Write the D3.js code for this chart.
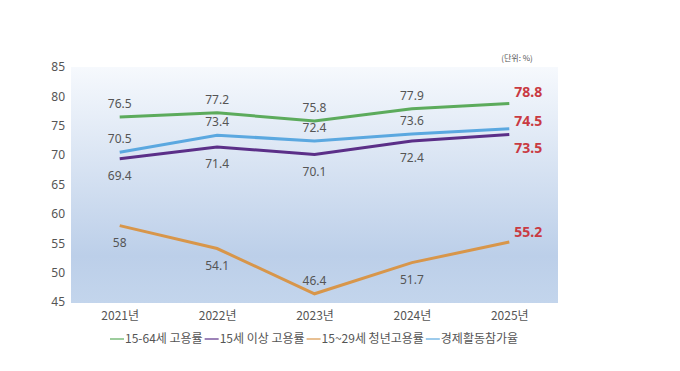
<!doctype html>
<html>
<head>
<meta charset="utf-8">
<title>고용률 추이</title>
<script src="https://cdnjs.cloudflare.com/ajax/libs/d3/7.8.5/d3.min.js"></script>
<style>
  body { margin: 0; background: #fff; font-family: "Noto Sans CJK KR", "Noto Sans", sans-serif; }
</style>
</head>
<body>
<div id="chart"></div>
<script>
// data
const years = ["2021년", "2022년", "2023년", "2024년", "2025년"];
const emp1564 = [76.5, 77.2, 75.8, 77.9, 78.8];
const emp15 = [69.4, 71.4, 70.1, 72.4, 73.5];
const youth = [58, 54.1, 46.4, 51.7, 55.2];
const participation = [70.5, 73.4, 72.4, 73.6, 74.5];
const yTicks = [45, 50, 55, 60, 65, 70, 75, 80, 85];

// label position per point: "up" or "down"; last = offset of the red end label
const series = [
  { name: "15-64세 고용률", values: emp1564, color: "#5cab5c", pos: ["up", "up", "up", "up"], last: -6 },
  { name: "15세 이상 고용률", values: emp15, color: "#5b2f88", pos: ["down", "down", "down", "down"], last: 18 },
  { name: "15~29세 청년고용률", values: youth, color: "#d8964a", pos: ["down", "down", "up", "down"], last: -5 },
  { name: "경제활동참가율", values: participation, color: "#5ba8e0", pos: ["up", "up", "up", "up"], last: -3 }
];

const W = 680, H = 371;
const mLeft = 71, mRight = 558, mTop = 67, mBottom = 303;

const svg = d3.select("#chart").append("svg")
  .attr("width", W).attr("height", H);

const defs = svg.append("defs");
const grad = defs.append("linearGradient").attr("id", "bg")
  .attr("x1", 0).attr("y1", 0).attr("x2", 0).attr("y2", 1);
grad.append("stop").attr("offset", "0%").attr("stop-color", "#f6f9fd");
grad.append("stop").attr("offset", "80%").attr("stop-color", "#bccfe9");
grad.append("stop").attr("offset", "100%").attr("stop-color", "#c3d5ec");

const x = d3.scalePoint().domain(years).range([mLeft, mRight]).padding(0.5);
const y = d3.scaleLinear().domain([45, 85]).range([mBottom - 1, mTop]);

svg.append("rect")
  .attr("x", mLeft).attr("y", mTop)
  .attr("width", mRight - mLeft).attr("height", mBottom - mTop)
  .attr("fill", "url(#bg)");

// y axis
const yAxis = svg.append("g")
  .attr("transform", `translate(${mLeft},0)`)
  .call(d3.axisLeft(y).tickValues(yTicks).tickSize(0).tickPadding(6));
yAxis.select(".domain").remove();
yAxis.selectAll("text").attr("fill", "#555").style("font-size", "12px")
  .style("font-family", "'Noto Sans', sans-serif");

// x axis
const xAxis = svg.append("g")
  .attr("transform", `translate(0,${mBottom})`)
  .call(d3.axisBottom(x).tickSize(0).tickPadding(8));
xAxis.select(".domain").remove();
xAxis.selectAll("text").attr("fill", "#555").style("font-size", "12px")
  .style("font-family", "'Noto Sans CJK KR', sans-serif");

// lines
const line = d3.line()
  .x((d, i) => x(years[i]))
  .y(d => y(d));

series.forEach(s => {
  svg.append("path")
    .datum(s.values)
    .attr("fill", "none")
    .attr("stroke", s.color)
    .attr("stroke-width", 3)
    .attr("d", line);
});

// labels
series.forEach(s => {
  svg.append("g").selectAll("text")
    .data(s.values.slice(0, 4))
    .join("text")
    .attr("x", (d, i) => x(years[i]))
    .attr("y", (d, i) => s.pos[i] == "up" ? y(d) - 9 : y(d) + 21)
    .attr("text-anchor", "middle")
    .attr("fill", "#555")
    .style("font-size", "12px")
    .style("font-family", "'Noto Sans', sans-serif")
    .text(d => d);

  const last = s.values[4];
  svg.append("text")
    .attr("x", x(years[4]) + 5)
    .attr("y", y(last) + s.last)
    .attr("fill", "#c93a42")
    .attr("font-weight", "bold")
    .style("font-size", "14px")
    .style("font-family", "'Noto Sans', sans-serif")
    .text(last);
});

// unit
svg.append("text")
  .attr("x", 517).attr("y", 61)
  .attr("text-anchor", "middle")
  .attr("fill", "#555")
  .style("font-size", "8px")
  .text("(단위: %)");

// legend
const legend = svg.append("g").attr("transform", "translate(110,339)");
let lx = 0;
series.forEach(s => {
  const g = legend.append("g").attr("transform", `translate(${lx},0)`);
  g.append("line").attr("x1", 0).attr("x2", 14).attr("y1", 0).attr("y2", 0)
    .attr("stroke", s.color).attr("stroke-width", 1.2);
  const t = g.append("text").attr("x", 15).attr("y", 4)
    .attr("fill", "#555").style("font-size", "12px")
    .text(s.name);
  lx += 15 + t.node().getComputedTextLength() + 2;
});
</script>
</body>
</html>
